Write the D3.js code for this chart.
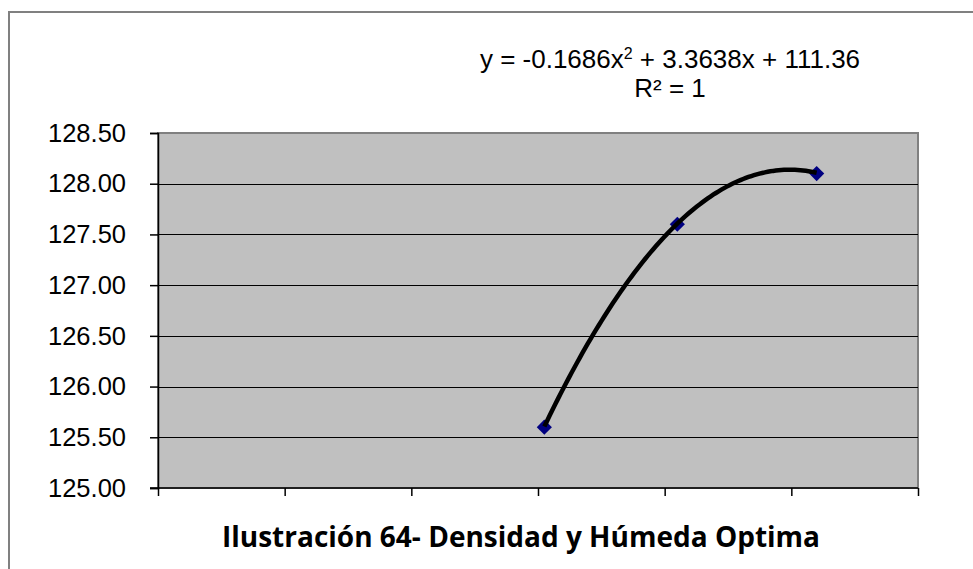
<!DOCTYPE html>
<html>
<head>
<meta charset="utf-8">
<script src="https://cdn.jsdelivr.net/npm/d3@7"></script>
<style>
  html, body { margin: 0; padding: 0; background: #fff; }
  svg { display: block; }
</style>
</head>
<body>
<svg id="chart" width="973" height="569"></svg>
<script>
// Humidity (%) vs. dry density samples
const moisture = [6.1, 8.2, 10.4];
const density = [125.6, 127.6, 128.1];

// Polynomial trendline coefficients: a*x^2 + b*x + c
const trendCoef = [-0.1686, 3.3638, 111.36];
const trendLabel = ["y = -0.1686x", "2", " + 3.3638x + 111.36"];
const r2Label = "R² = 1";

const xTicks = [0, 2, 4, 6, 8, 10, 12];
const yTicks = [125.0, 125.5, 126.0, 126.5, 127.0, 127.5, 128.0, 128.5];
const title = "Ilustración 64- Densidad y Húmeda Optima";

const svg = d3.select("#chart");
const plot = { left: 158, right: 918, top: 133, bottom: 488 };

const x = d3.scaleLinear().domain([0, 12]).range([plot.left, plot.right]);
const y = d3.scaleLinear().domain([125, 128.5]).range([plot.bottom, plot.top]);

// Outer chart frame (runs past the right and bottom edges)
svg.append("rect")
  .attr("x", 9).attr("y", 12).attr("width", 990).attr("height", 600)
  .attr("fill", "#fff").attr("stroke", "#808080").attr("stroke-width", 2);

// Plot area
svg.append("rect")
  .attr("x", plot.left).attr("y", plot.top)
  .attr("width", plot.right - plot.left).attr("height", plot.bottom - plot.top)
  .attr("fill", "#c0c0c0").attr("stroke", "#808080").attr("stroke-width", 2);

// Horizontal gridlines
svg.append("g").selectAll("line")
  .data(yTicks.slice(1, -1))
  .join("line")
  .attr("x1", plot.left).attr("x2", plot.right)
  .attr("y1", d => Math.round(y(d)) + 0.5).attr("y2", d => Math.round(y(d)) + 0.5)
  .attr("stroke", "#000").attr("stroke-width", 1);

// Y axis
const yAxis = svg.append("g")
  .attr("transform", `translate(${plot.left},0)`)
  .call(d3.axisLeft(y).tickValues(yTicks).tickFormat(d3.format(".2f")).tickSize(8).tickPadding(24));
yAxis.select(".domain").attr("stroke", "#000").attr("stroke-width", 1.5);
yAxis.selectAll(".tick line").attr("stroke", "#000").attr("stroke-width", 1.5);
yAxis.selectAll(".tick text")
  .attr("fill", "#000")
  .style("font-family", "'Liberation Sans', Arial, sans-serif")
  .style("font-size", "25.5px");

// X axis (ticks only, no labels)
const xAxis = svg.append("g")
  .attr("transform", `translate(0,${plot.bottom})`)
  .call(d3.axisBottom(x).tickValues(xTicks).tickFormat("").tickSize(8).tickSizeOuter(0));
xAxis.select(".domain").attr("stroke", "#000").attr("stroke-width", 1.5)
  .attr("d", `M${plot.left - 8},0H${plot.right}`);
xAxis.selectAll(".tick line").attr("stroke", "#000").attr("stroke-width", 1.5);

// Markers
svg.append("g").selectAll("path")
  .data(moisture.map((m, i) => [m, density[i]]))
  .join("path")
  .attr("d", d3.symbol(d3.symbolSquare, 115))
  .attr("transform", d => `translate(${x(d[0])},${y(d[1])}) rotate(45)`)
  .attr("fill", "#000080");

// Trendline over the data range
const poly = v => trendCoef[0] * v * v + trendCoef[1] * v + trendCoef[2];
const xs = d3.range(0, 101).map(i => moisture[0] + (moisture[moisture.length - 1] - moisture[0]) * i / 100);
svg.append("path")
  .datum(xs)
  .attr("d", d3.line().x(v => x(v)).y(v => y(poly(v))))
  .attr("fill", "none").attr("stroke", "#000").attr("stroke-width", 4.5)
  .attr("stroke-linecap", "butt");

// Trendline equation
const eq = svg.append("text")
  .attr("x", 670).attr("y", 68)
  .attr("text-anchor", "middle")
  .style("font-family", "'Liberation Sans', Arial, sans-serif")
  .style("font-size", "26px").attr("fill", "#000");
eq.append("tspan").text(trendLabel[0]);
eq.append("tspan").attr("dy", -9).style("font-size", "16px").text(trendLabel[1]);
eq.append("tspan").attr("dy", 9).text(trendLabel[2]);

svg.append("text")
  .attr("x", 670).attr("y", 97)
  .attr("text-anchor", "middle")
  .style("font-family", "'Liberation Sans', Arial, sans-serif")
  .style("font-size", "26px").attr("fill", "#000")
  .text(r2Label);

// Caption
svg.append("text")
  .attr("x", 521).attr("y", 547)
  .attr("text-anchor", "middle")
  .style("font-family", "'Open Sans', 'Noto Sans', sans-serif")
  .style("font-weight", "bold")
  .style("font-size", "28px").attr("fill", "#000")
  .text(title);
</script>
</body>
</html>
